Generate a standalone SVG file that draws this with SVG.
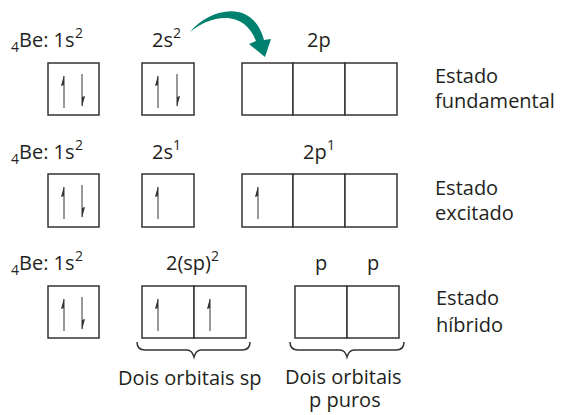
<svg xmlns="http://www.w3.org/2000/svg" xmlns:xlink="http://www.w3.org/1999/xlink" width="561" height="415" viewBox="0 0 561 415">
  <style>
    text { font-family: "Open Sans", "Liberation Sans", sans-serif; font-size: 20px; fill: #231f20; }
    .sm { font-size: 14px; }
    .box { fill: #fff; stroke: #333; stroke-width: 1.5; }
    .brace { fill: none; stroke: #333; stroke-width: 1.5; }
    .spin line { stroke: #555; stroke-width: 1.2; }
    .spin polygon { fill: #333; }
  </style>
  <defs>
    <!-- electron spin harpoons, 33px tall -->
    <g id="up" class="spin">
      <line x1="0" y1="1" x2="0" y2="33"/>
      <polygon points="0,0 -3,11 0,10"/>
    </g>
    <g id="down" class="spin">
      <line x1="0" y1="0" x2="0" y2="32"/>
      <polygon points="0,33 3,22 0,23"/>
    </g>
  </defs>

  <!-- Ground state -->
  <g id="ground-state">
    <text class="sm" x="11" y="52">4</text>
    <text x="19" y="47">Be: 1s</text>
    <text class="sm" x="75" y="38">2</text>
    <text x="152" y="47">2s</text>
    <text class="sm" x="173" y="38">2</text>
    <text x="307" y="47">2p</text>
    <g id="g-1s">
      <rect class="box" x="48" y="63" width="51" height="52"/>
      <use xlink:href="#up" x="64" y="75"/>
      <use xlink:href="#down" x="82" y="74"/>
    </g>
    <g id="g-2s">
      <rect class="box" x="142" y="63" width="52" height="52"/>
      <use xlink:href="#up" x="158" y="75"/>
      <use xlink:href="#down" x="177" y="74"/>
    </g>
    <g id="g-2p">
      <rect class="box" x="242" y="63" width="51" height="52"/>
      <rect class="box" x="293" y="63" width="52" height="52"/>
      <rect class="box" x="345" y="63" width="52" height="52"/>
    </g>
    <text x="435" y="83">Estado</text>
    <text x="435" y="108">fundamental</text>
  </g>

  <!-- Excited state -->
  <g id="excited-state">
    <text class="sm" x="11" y="164">4</text>
    <text x="19" y="159">Be: 1s</text>
    <text class="sm" x="75" y="150">2</text>
    <text x="152" y="159">2s</text>
    <text class="sm" x="173" y="150">1</text>
    <text x="303" y="159">2p</text>
    <text class="sm" x="327" y="150">1</text>
    <g id="e-1s">
      <rect class="box" x="48" y="174" width="51" height="53"/>
      <use xlink:href="#up" x="64" y="186"/>
      <use xlink:href="#down" x="82" y="185"/>
    </g>
    <g id="e-2s">
      <rect class="box" x="142" y="174" width="52" height="53"/>
      <use xlink:href="#up" x="158" y="186"/>
    </g>
    <g id="e-2p">
      <rect class="box" x="242" y="174" width="51" height="53"/>
      <rect class="box" x="293" y="174" width="52" height="53"/>
      <rect class="box" x="345" y="174" width="52" height="53"/>
      <use xlink:href="#up" x="258" y="186"/>
    </g>
    <text x="435" y="195">Estado</text>
    <text x="435" y="220">excitado</text>
  </g>

  <!-- Hybrid state -->
  <g id="hybrid-state">
    <text class="sm" x="11" y="275">4</text>
    <text x="19" y="270">Be: 1s</text>
    <text class="sm" x="75" y="261">2</text>
    <text x="166" y="270">2(sp)</text>
    <text class="sm" x="211" y="261">2</text>
    <text x="315" y="270">p</text>
    <text x="367" y="270">p</text>
    <g id="h-1s">
      <rect class="box" x="48" y="286" width="51" height="52"/>
      <use xlink:href="#up" x="64" y="298"/>
      <use xlink:href="#down" x="82" y="297"/>
    </g>
    <g id="h-sp">
      <rect class="box" x="142" y="286" width="52" height="52"/>
      <rect class="box" x="194" y="286" width="52" height="52"/>
      <use xlink:href="#up" x="158" y="298"/>
      <use xlink:href="#up" x="210" y="298"/>
    </g>
    <g id="h-p">
      <rect class="box" x="295" y="286" width="52" height="52"/>
      <rect class="box" x="347" y="286" width="52" height="52"/>
    </g>
    <text x="436" y="305">Estado</text>
    <text x="436" y="332">híbrido</text>
    <text x="118" y="385">Dois orbitais sp</text>
    <text x="285" y="384">Dois orbitais</text>
    <text x="309" y="407">p puros</text>
  </g>

  <!-- Connectors: promotion arrow and grouping braces -->
  <g id="connectors">
    <path fill="#00806e" d="M190,32 C210,8 253,-2 264,40 L271,39 L265,57 L249,44 L256,41 C244,10 212,14 190,32 Z"/>
    <path class="brace" d="M137,342 Q137,350 145,350 L187,350 Q192,350 194,357 Q196,350 201,350 L242,350 Q250,350 250,342"/>
    <path class="brace" d="M290,342 Q290,350 298,350 L340,350 Q345,350 347,357 Q349,350 354,350 L396,350 Q404,350 404,342"/>
  </g>
</svg>
